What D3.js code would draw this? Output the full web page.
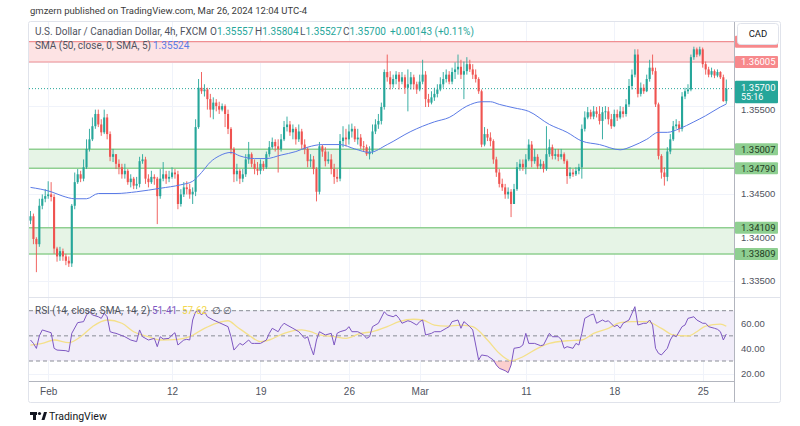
<!DOCTYPE html>
<html><head><meta charset="utf-8">
<script src="https://cdn.jsdelivr.net/npm/d3@7"></script>
<style>
body{margin:0;background:#fff;}
svg{display:block;font-family:Roboto,"Liberation Sans",Arial,sans-serif;}
</style>
</head><body>
<svg id="c" width="800" height="426"></svg>
<script>
// ---------- DATA ----------
const firstOpen = 1.3419;
const closes = [
1.3424,1.3398,1.3392,1.3436,1.3444,1.3447,1.3449,1.3446,1.3387,1.3378,
1.3384,1.3378,1.3373,1.3370,1.3436,1.3463,1.3472,1.3467,1.3480,1.3501,
1.3512,1.3527,1.3541,1.3529,1.3520,1.3537,1.3518,1.3492,1.3495,1.3484,
1.3480,1.3472,1.3476,1.3463,1.3467,1.3459,1.3461,1.3487,1.3489,1.3467,
1.3463,1.3469,1.3467,1.3447,1.3467,1.3472,1.3467,1.3469,1.3474,1.3472,
1.3438,1.3449,1.3457,1.3455,1.3449,1.3452,1.3526,1.3571,1.3567,1.3569,
1.3558,1.3546,1.3554,1.3550,1.3546,1.3550,1.3541,1.3524,1.3501,1.3472,
1.3476,1.3467,1.3472,1.3489,1.3495,1.3484,1.3478,1.3476,1.3484,1.3480,
1.3495,1.3503,1.3509,1.3504,1.3501,1.3512,1.3526,1.3529,1.3520,1.3524,
1.3512,1.3521,1.3506,1.3501,1.3487,1.3489,1.3478,1.3452,1.3504,1.3498,
1.3487,1.3489,1.3478,1.3469,1.3467,1.3510,1.3514,1.3512,1.3521,1.3524,
1.3512,1.3514,1.3504,1.3503,1.3495,1.3498,1.3521,1.3529,1.3533,1.3549,
1.3589,1.3583,1.3575,1.3581,1.3586,1.3578,1.3583,1.3571,1.3575,1.3583,
1.3575,1.3569,1.3578,1.3586,1.3558,1.3554,1.3560,1.3564,1.3569,1.3575,
1.3581,1.3586,1.3578,1.3589,1.3592,1.3595,1.3586,1.3590,1.3598,1.3592,
1.3586,1.3581,1.3567,1.3506,1.3518,1.3514,1.3510,1.3489,1.3474,1.3461,
1.3457,1.3449,1.3452,1.3438,1.3455,1.3480,1.3484,1.3480,1.3489,1.3506,
1.3487,1.3492,1.3481,1.3484,1.3478,1.3495,1.3503,1.3493,1.3495,1.3492,
1.3495,1.3487,1.3470,1.3474,1.3472,1.3476,1.3480,1.3524,1.3537,1.3543,
1.3538,1.3544,1.3541,1.3533,1.3543,1.3544,1.3535,1.3527,1.3541,1.3537,
1.3544,1.3541,1.3552,1.3573,1.3586,1.3609,1.3564,1.3571,1.3567,1.3581,
1.3594,1.3590,1.3552,1.3493,1.3474,1.3469,1.3498,1.3512,1.3527,1.3529,
1.3524,1.3561,1.3567,1.3569,1.3606,1.3615,1.3609,1.3615,1.3598,1.3592,
1.3586,1.3590,1.3585,1.3589,1.3583,1.35557,1.35700];
const highs = [
1.3430,1.3427,1.3400,1.3444,1.3449,1.3455,1.3464,1.3463,1.3449,1.3389,
1.3389,1.3387,1.3381,1.3378,1.3438,1.3474,1.3478,1.3476,1.3489,1.3512,
1.3524,1.3537,1.3546,1.3546,1.3535,1.3546,1.3541,1.3521,1.3501,1.3495,
1.3489,1.3484,1.3484,1.3478,1.3472,1.3469,1.3469,1.3492,1.3495,1.3492,
1.3472,1.3476,1.3472,1.3469,1.3478,1.3486,1.3476,1.3476,1.3480,1.3478,
1.3476,1.3455,1.3463,1.3464,1.3461,1.3457,1.3535,1.3581,1.3589,1.3575,
1.3571,1.3564,1.3560,1.3558,1.3555,1.3553,1.3552,1.3546,1.3526,1.3503,
1.3484,1.3478,1.3478,1.3495,1.3509,1.3497,1.3489,1.3486,1.3489,1.3487,
1.3498,1.3510,1.3514,1.3512,1.3512,1.3518,1.3533,1.3538,1.3533,1.3529,
1.3526,1.3529,1.3524,1.3512,1.3503,1.3495,1.3493,1.3480,1.3509,1.3506,
1.3503,1.3498,1.3495,1.3484,1.3478,1.3518,1.3527,1.3524,1.3529,1.3530,
1.3527,1.3524,1.3518,1.3510,1.3506,1.3504,1.3529,1.3535,1.3541,1.3554,
1.3592,1.3609,1.3590,1.3586,1.3590,1.3589,1.3589,1.3586,1.3592,1.3589,
1.3586,1.3578,1.3586,1.3603,1.3590,1.3564,1.3567,1.3571,1.3575,1.3583,
1.3589,1.3592,1.3590,1.3594,1.3600,1.3609,1.3603,1.3601,1.3606,1.3603,
1.3598,1.3592,1.3583,1.3569,1.3526,1.3524,1.3520,1.3512,1.3492,1.3478,
1.3467,1.3461,1.3457,1.3455,1.3461,1.3486,1.3489,1.3489,1.3495,1.3512,
1.3510,1.3501,1.3495,1.3489,1.3487,1.3527,1.3512,1.3506,1.3501,1.3501,
1.3501,1.3497,1.3489,1.3480,1.3478,1.3480,1.3484,1.3529,1.3544,1.3549,
1.3546,1.3550,1.3549,1.3550,1.3549,1.3550,1.3549,1.3541,1.3546,1.3546,
1.3550,1.3549,1.3558,1.3581,1.3592,1.3615,1.3615,1.3577,1.3575,1.3586,
1.3603,1.3609,1.3594,1.3554,1.3495,1.3480,1.3503,1.3518,1.3533,1.3535,
1.3533,1.3566,1.3571,1.3575,1.3609,1.3618,1.3617,1.3618,1.3617,1.3601,
1.3595,1.3594,1.3592,1.3592,1.3590,1.3586,1.35804];
const lows = [
1.3415,1.3392,1.3360,1.3389,1.3432,1.3440,1.3444,1.3441,1.3381,1.3372,
1.3373,1.3373,1.3368,1.3366,1.3366,1.3432,1.3461,1.3463,1.3464,1.3478,
1.3498,1.3510,1.3524,1.3526,1.3516,1.3518,1.3512,1.3487,1.3486,1.3478,
1.3472,1.3467,1.3467,1.3460,1.3457,1.3455,1.3455,1.3457,1.3484,1.3461,
1.3457,1.3461,1.3460,1.3415,1.3444,1.3464,1.3461,1.3463,1.3467,1.3467,
1.3432,1.3435,1.3446,1.3449,1.3444,1.3438,1.3447,1.3524,1.3564,1.3561,
1.3546,1.3537,1.3535,1.3544,1.3541,1.3544,1.3526,1.3518,1.3495,1.3463,
1.3464,1.3461,1.3463,1.3469,1.3484,1.3480,1.3472,1.3471,1.3472,1.3476,
1.3478,1.3492,1.3501,1.3498,1.3474,1.3498,1.3510,1.3521,1.3516,1.3512,
1.3506,1.3509,1.3501,1.3495,1.3480,1.3480,1.3472,1.3441,1.3449,1.3492,
1.3481,1.3484,1.3472,1.3461,1.3463,1.3464,1.3503,1.3504,1.3506,1.3514,
1.3509,1.3506,1.3501,1.3498,1.3493,1.3489,1.3495,1.3518,1.3524,1.3529,
1.3546,1.3578,1.3569,1.3571,1.3575,1.3569,1.3575,1.3564,1.3544,1.3569,
1.3569,1.3564,1.3567,1.3575,1.3549,1.3549,1.3552,1.3556,1.3560,1.3567,
1.3571,1.3577,1.3575,1.3575,1.3581,1.3586,1.3581,1.3558,1.3586,1.3589,
1.3581,1.3577,1.3564,1.3503,1.3504,1.3510,1.3504,1.3484,1.3469,1.3457,
1.3453,1.3444,1.3444,1.3423,1.3438,1.3453,1.3476,1.3476,1.3472,1.3487,
1.3480,1.3484,1.3478,1.3478,1.3474,1.3476,1.3492,1.3489,1.3489,1.3487,
1.3489,1.3484,1.3461,1.3467,1.3469,1.3470,1.3472,1.3467,1.3521,1.3535,
1.3535,1.3535,1.3537,1.3529,1.3512,1.3535,1.3529,1.3524,1.3526,1.3533,
1.3535,1.3537,1.3538,1.3549,1.3569,1.3583,1.3560,1.3561,1.3564,1.3566,
1.3578,1.3586,1.3549,1.3489,1.3467,1.3459,1.3464,1.3495,1.3510,1.3524,
1.3520,1.3521,1.3558,1.3564,1.3567,1.3603,1.3606,1.3607,1.3594,1.3586,
1.3583,1.3583,1.3582,1.3583,1.3581,1.3555,1.35527];

// SMA(50) (candle index, price)
const smaIdx = [0,7,11,15,19,23,29,36,44,51,55,58,61,64,68,71,76,80,85,90,94,99,105,110,115,121,129,137,142,148,153,156,159,164,169,176,182,187,193,200,204,209,213,216,220,225,229,234,236];
const smaVal = [1.3457,1.3452,1.3447,1.3444,1.3444,1.3450,1.3450,1.3452,1.3456,1.3460,1.3464,1.3474,1.3486,1.3493,1.3497,1.3493,1.3490,1.3490,1.3494,1.3498,1.3503,1.3506,1.3506,1.3501,1.3497,1.3506,1.3521,1.3532,1.3537,1.3550,1.3555,1.3555,1.3552,1.3548,1.3544,1.3529,1.3520,1.3510,1.3506,1.3500,1.3504,1.3512,1.3520,1.3520,1.3524,1.3532,1.3539,1.3549,1.35524];

// RSI(14)
const rsiIdx = [0,1,2,3,4,7,8,9,12,13,14,16,18,19,20,21,23,24,25,26,27,28,29,32,34,36,37,38,40,42,43,44,45,47,48,49,50,52,53,54,55,56,57,58,59,60,62,64,67,68,69,71,72,74,75,76,78,80,81,82,84,85,86,87,89,91,93,94,95,96,97,98,100,102,103,104,105,107,108,109,111,113,114,115,116,118,120,121,123,124,125,126,128,129,131,132,133,134,136,137,139,141,142,143,145,146,147,148,149,150,152,153,155,157,158,159,161,162,163,164,166,167,168,169,171,173,174,176,177,179,180,181,182,184,185,186,187,188,190,191,192,194,195,196,198,199,200,201,203,204,205,206,208,209,210,211,212,213,214,216,217,218,219,221,222,223,225,226,228,229,230,232,233,234,235,236];
const rsiVal = [46.7,44,40,50,54.7,52.5,40.1,38.7,38.2,37.4,52,60.5,61.3,66.6,69.2,66.6,65.2,63.9,67.9,65.2,53.3,52.5,52,49.3,46.7,45.4,54.7,49.3,46.7,48,41.4,49.3,47.5,48,50.7,52.5,42.7,46.7,47.2,46.7,62.6,69.2,70,66.6,69.2,65.2,62.6,60.5,57.3,49.3,38.7,44,42.7,46.7,44,44,44,46.7,52,56,53.3,57.3,60,58.6,56,53.3,48,49.3,41.4,34.8,46.7,53.3,50.7,52,42.7,52,53.3,54.7,57.3,53.3,53.3,50.7,48,49.3,57.3,60,69.2,66.6,65.2,66.6,63.9,60,62,61.3,58.6,61.3,62.6,50.7,52,53.3,53.3,56,57.3,61.3,62.6,56,61.3,59.4,57.3,54.7,30.8,34.8,34,30.8,26.8,24.2,22.3,20.7,26.8,40.1,40.9,42.7,52,44,44,42.2,42.7,52,49.3,49.3,47.2,40.1,41.4,40.1,44,42.7,52,63.9,66.6,67.4,60,62.6,61.3,62,57.3,58.6,56,60,62.6,67.9,73.2,58.6,60,60,62.6,58.6,40.1,36.1,34.8,40.1,46.7,50.7,49.3,57.3,58.6,63.9,65.2,62.6,60,60,57.3,56,55.2,53.3,46.7,51.41];

// RSI-based SMA(14)
const rsiMaIdx = [0,4,8,13,17,21,26,31,35,40,44,50,54,59,63,67,70,74,78,81,86,92,95,98,103,107,112,116,121,125,130,133,137,141,146,150,155,159,163,167,172,176,182,187,191,196,200,204,209,214,218,223,226,229,234,236];
const rsiMaVal = [42.7,44,46.7,44.6,49.3,57.3,62.6,60,53.3,49.3,46.7,47.2,49.3,56,60,62,57.3,50.7,45.4,46.7,52,54.7,53.3,50.7,49.3,48,52,53.3,57.3,61.3,63.2,62.6,58.6,57.8,58.6,57.3,46.7,36.1,30.2,33.4,40.1,44,46.1,46.7,52,56,60.5,61.3,61.3,56,50.7,49.9,53.3,57.8,59.4,57.62];

const tickIdx = [6,48,78,108,132,168,198,228];
const tickLabels = ["Feb","12","19","26","Mar","11","18","25"];
const priceGrid = [1.335,1.340,1.345,1.350,1.355,1.360];
const priceTickLabels = [1.335,1.340,1.345,1.355];
const rsiTicks = [20,40,60];
const rsiLevels = [70,50,30];
const resistZone = [1.36005, 1.36237];
const supportZones = [[1.34790,1.35007],[1.33809,1.34109]];
const supportLevels = [1.35007,1.34790,1.34109,1.33809];
const lastPrice = 1.35700, lastSma = 1.35524, lastRsi = 51.41, lastRsiMa = 57.62;

// ---------- LAYOUT ----------
const L = 29, R = 734, AXR = 780, TOP = 22, PBOT = 297, RBOT = 381, BOT = 402;
const svg = d3.select("#c");
const x = d3.scaleLinear().domain([0, 236]).range([30.5, 726.3]);
const y = d3.scaleLinear().domain([1.33809, 1.35007]).range([253.9, 149.2]);
const ry = d3.scaleLinear().domain([30, 70]).range([361, 310.7]);
const UP = "#26a69a", DN = "#ef5350";

svg.append("rect").attr("width",800).attr("height",426).attr("fill","#fff");

// title
svg.append("text").attr("x",30).attr("y",14).attr("font-size",9.5).attr("fill","#3b3b3b")
  .text("gmzern published on TradingView.com, Mar 26, 2024 12:04 UTC-4");

const defs = svg.append("defs");
defs.append("clipPath").attr("id","pclip").append("rect").attr("x",L).attr("y",TOP).attr("width",R-L).attr("height",PBOT-TOP);
defs.append("clipPath").attr("id","rclip").append("rect").attr("x",L).attr("y",PBOT).attr("width",R-L).attr("height",RBOT-PBOT);
defs.append("clipPath").attr("id","osclip").append("rect").attr("x",L).attr("y",ry(30)).attr("width",R-L).attr("height",RBOT-ry(30));
defs.append("clipPath").attr("id","obclip").append("rect").attr("x",L).attr("y",PBOT).attr("width",R-L).attr("height",ry(70)-PBOT);

// grid
const grid = svg.append("g").attr("stroke","#f0f3fa").attr("stroke-width",1);
priceGrid.forEach(p => grid.append("line").attr("x1",L).attr("x2",R).attr("y1",Math.round(y(p))+0.5).attr("y2",Math.round(y(p))+0.5));
rsiTicks.forEach(v => grid.append("line").attr("x1",L).attr("x2",R).attr("y1",Math.round(ry(v))+0.5).attr("y2",Math.round(ry(v))+0.5));
tickIdx.forEach(t => grid.append("line").attr("x1",Math.round(x(t))+0.5).attr("x2",Math.round(x(t))+0.5).attr("y1",TOP).attr("y2",RBOT));

// zones
const pz = svg.append("g").attr("clip-path","url(#pclip)");
pz.append("rect").attr("x",L).attr("width",R-L).attr("y",y(resistZone[1])).attr("height",y(resistZone[0])-y(resistZone[1]))
  .attr("fill","#fde3e4");
resistZone.forEach(p => pz.append("line").attr("x1",L).attr("x2",R).attr("y1",y(p)).attr("y2",y(p)).attr("stroke","#f08f92").attr("stroke-width",1.2));
supportZones.forEach(z => {
  pz.append("rect").attr("x",L).attr("width",R-L).attr("y",y(z[1])).attr("height",y(z[0])-y(z[1])).attr("fill","#e6f4e6");
});
supportLevels.forEach(p => pz.append("line").attr("x1",L).attr("x2",R).attr("y1",y(p)).attr("y2",y(p)).attr("stroke","#8fcf91").attr("stroke-width",1.5));

// current price dotted line
pz.append("line").attr("x1",L).attr("x2",R).attr("y1",y(lastPrice)).attr("y2",y(lastPrice))
  .attr("stroke",UP).attr("stroke-width",1).attr("stroke-dasharray","1 2");

// candles
const candles = closes.map((c,i)=>{
  const o = i===0 ? firstOpen : closes[i-1];
  return {i, o, c, h: Math.max(highs[i], o, c), l: Math.min(lows[i], o, c)};
});
const cg = pz.append("g");
cg.selectAll("line.w").data(candles).join("line")
  .attr("x1",d=>x(d.i)).attr("x2",d=>x(d.i)).attr("y1",d=>y(d.h)).attr("y2",d=>y(d.l))
  .attr("stroke",d=>d.c>=d.o?UP:DN).attr("stroke-width",0.9);
cg.selectAll("rect.b").data(candles).join("rect")
  .attr("x",d=>x(d.i)-1.05).attr("width",2.1)
  .attr("y",d=>Math.min(y(d.o),y(d.c)))
  .attr("height",d=>Math.max(0.8,Math.abs(y(d.o)-y(d.c))))
  .attr("fill",d=>d.c>=d.o?UP:DN);

// SMA line
pz.append("path").datum(smaIdx.map((t,k)=>[t,smaVal[k]]))
  .attr("d",d3.line().x(d=>x(d[0])).y(d=>y(d[1])).curve(d3.curveMonotoneX))
  .attr("fill","none").attr("stroke","#5b7be6").attr("stroke-width",1);

// legends (price pane)
const lg = svg.append("g").attr("font-size",10);
lg.append("text").attr("x",35).attr("y",35).attr("fill","#50535e").text("U.S. Dollar / Canadian Dollar, 4h, FXCM");
const ohlc = [["O",candles[236].o,210],["H",highs[236],255],["L",lows[236],300],["C",closes[236],343]];
ohlc.forEach(([k,v,px])=>{
  const t = lg.append("text").attr("x",px).attr("y",35);
  t.append("tspan").attr("fill","#50535e").text(k);
  t.append("tspan").attr("fill",UP).text(d3.format(".5f")(v));
});
lg.append("text").attr("x",390).attr("y",35).attr("fill",UP).text("+0.00143 (+0.11%)");
lg.append("text").attr("x",35).attr("y",49).attr("fill","#50535e").text("SMA (50, close, 0, SMA, 5)");
lg.append("text").attr("x",153).attr("y",49).attr("fill","#5b7be6").text(d3.format(".5f")(lastSma));

// ---------- RSI pane ----------
const rg = svg.append("g").attr("clip-path","url(#rclip)");
rg.append("rect").attr("x",L).attr("width",R-L).attr("y",ry(70)).attr("height",ry(30)-ry(70)).attr("fill","#f1edf9");
const rsiPts = rsiIdx.map((t,k)=>[t,rsiVal[k]]);
rg.append("path").datum(rsiPts).attr("clip-path","url(#osclip)")
  .attr("d",d3.area().x(d=>x(d[0])).y0(ry(30)).y1(d=>ry(d[1])))
  .attr("fill","rgba(239,83,80,0.28)");
rg.append("path").datum(rsiPts).attr("clip-path","url(#obclip)")
  .attr("d",d3.area().x(d=>x(d[0])).y0(ry(70)).y1(d=>ry(d[1])))
  .attr("fill","rgba(38,166,154,0.28)");

// RSI legend
const rl = svg.append("g").attr("font-size",10);
rl.append("text").attr("x",35).attr("y",314).attr("fill","#50535e").text("RSI (14, close, SMA, 14, 2)");
rl.append("text").attr("x",152).attr("y",314).attr("fill","#7e57c2").text(lastRsi.toFixed(2));
rl.append("text").attr("x",182).attr("y",314).attr("fill","#f2d64b").text(lastRsiMa.toFixed(2));
rl.append("text").attr("x",212).attr("y",314).attr("fill","#50535e").text("∅");
rl.append("text").attr("x",223).attr("y",314).attr("fill","#50535e").text("∅");

rsiLevels.forEach(v => rg.append("line").attr("x1",L).attr("x2",R).attr("y1",ry(v)).attr("y2",ry(v))
  .attr("stroke","#8a8d96").attr("stroke-width",1).attr("stroke-dasharray","4 3"));
rg.append("path").datum(rsiMaIdx.map((t,k)=>[t,rsiMaVal[k]]))
  .attr("d",d3.line().x(d=>x(d[0])).y(d=>ry(d[1])).curve(d3.curveMonotoneX))
  .attr("fill","none").attr("stroke","#f4e08a").attr("stroke-width",1.3);
rg.append("path").datum(rsiPts)
  .attr("d",d3.line().x(d=>x(d[0])).y(d=>ry(d[1])))
  .attr("fill","none").attr("stroke","#7e57c2").attr("stroke-width",1);

// ---------- frame & separators ----------
const fr = svg.append("g").attr("stroke","#e0e3eb").attr("fill","none");
fr.append("rect").attr("x",28.5).attr("y",21.5).attr("width",AXR-28).attr("height",BOT-21).attr("rx",2);
fr.append("line").attr("x1",L).attr("x2",AXR).attr("y1",PBOT+0.5).attr("y2",PBOT+0.5);
svg.append("line").attr("x1",L).attr("x2",R).attr("y1",RBOT+0.5).attr("y2",RBOT+0.5).attr("stroke","#b2b5be");
svg.append("line").attr("x1",R+0.5).attr("x2",R+0.5).attr("y1",TOP).attr("y2",BOT).attr("stroke","#b2b5be");

// ---------- axes ----------
const pa = svg.append("g").attr("transform",`translate(${R},0)`)
  .call(d3.axisRight(y).tickValues(priceTickLabels).tickFormat(d3.format(".5f")).tickSize(0).tickPadding(7));
pa.select(".domain").remove();
pa.selectAll("text").attr("font-size",9.5).attr("fill","#50535e").attr("font-family",null)
  .attr("dy",d=>d===1.355?"0.62em":"0.32em");

const ra = svg.append("g").attr("transform",`translate(${R},0)`)
  .call(d3.axisRight(ry).tickValues(rsiTicks).tickFormat(d3.format(".2f")).tickSize(0).tickPadding(7));
ra.select(".domain").remove();
ra.selectAll("text").attr("font-size",9.5).attr("fill","#50535e").attr("font-family",null);

const ta = svg.append("g").attr("transform",`translate(0,${RBOT})`)
  .call(d3.axisBottom(x).tickValues(tickIdx).tickFormat((d,k)=>tickLabels[k]).tickSize(0).tickPadding(7));
ta.select(".domain").remove();
ta.selectAll("text").attr("font-size",10).attr("fill","#50535e").attr("font-family",null);

// price labels on the axis
function tag(price, bg, fg, showText){
  const g = svg.append("g");
  g.append("rect").attr("x",R+1).attr("y",y(price)-6).attr("width",AXR-R-3).attr("height",12).attr("fill",bg).attr("rx",1);
  if (showText) g.append("text").attr("x",R+7).attr("y",y(price)+3.5).attr("font-size",9.5).attr("fill",fg).text(d3.format(".5f")(price));
}
tag(resistZone[1], "#f7898c", "#fff", false);
tag(resistZone[0], "#f7898c", "#fff", true);
supportLevels.forEach(p => tag(p, "#8fcf91", "#1e3b1f", true));
// last price tag with countdown
const lp = svg.append("g");
lp.append("rect").attr("x",R+1).attr("y",y(lastPrice)-8).attr("width",AXR-R-3).attr("height",22.5).attr("fill",UP).attr("rx",1);
lp.append("text").attr("x",R+7).attr("y",y(lastPrice)+2.5).attr("font-size",9.5).attr("fill","#fff").text(d3.format(".5f")(lastPrice));
lp.append("text").attr("x",R+7).attr("y",y(lastPrice)+11.5).attr("font-size",9).attr("fill","#fff").text("55:16");

// CAD currency box
const cad = svg.append("g");
cad.append("rect").attr("x",R+3.5).attr("y",23.5).attr("width",41).attr("height",21).attr("rx",3).attr("fill","#fff").attr("stroke","#e0e3eb");
cad.append("text").attr("x",R+24).attr("y",37).attr("text-anchor","middle").attr("font-size",9.5).attr("fill","#131722").text("CAD");

// TradingView logo
const logo = svg.append("g").attr("fill","#131722");
logo.append("rect").attr("x",30).attr("y",412).attr("width",7).attr("height",3);
logo.append("rect").attr("x",33).attr("y",412).attr("width",3).attr("height",8);
logo.append("circle").attr("cx",39.5).attr("cy",413.5).attr("r",1.6);
logo.append("path").attr("d","M41.5 420 L44 412 L47 412 L44.5 420 Z");
svg.append("text").attr("x",49).attr("y",420).attr("font-size",10.5).attr("fill","#131722").text("TradingView");
</script>
</body></html>
